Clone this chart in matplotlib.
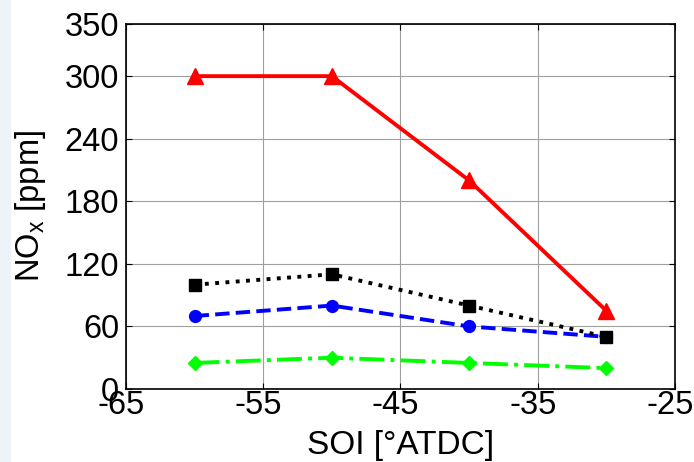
import matplotlib
matplotlib.use('Agg')
import matplotlib.pyplot as plt
import matplotlib.transforms as mtransforms
from matplotlib.patches import Rectangle

soi = [-60, -50, -40, -30]
nox_red = [300, 300, 200, 75]
nox_black = [100, 110, 80, 50]
nox_blue = [70, 80, 60, 50]
nox_green = [25, 30, 25, 20]

x_ticks = [-65, -55, -45, -35, -25]
y_ticks = [0, 60, 120, 180, 240, 300, 350]

plt.rcParams['font.family'] = ['Liberation Sans', 'DejaVu Sans']
plt.rcParams['mathtext.fontset'] = 'custom'
plt.rcParams['mathtext.rm'] = 'Liberation Sans'
plt.rcParams['axes.unicode_minus'] = False

fig = plt.figure(figsize=(6.94, 4.62), dpi=100)
# faint blue strip at the left edge, as in the source slide
fig.patches.append(Rectangle((0, 0), 0.015, 1, transform=fig.transFigure,
                             color='#edf3f9', zorder=0))
ax = fig.add_axes([126 / 694, 73 / 462, 549 / 694, 365 / 462])

# blue first so the black squares sit on top where they meet
ax.plot(soi, nox_blue, '--o', color='blue', lw=2.8, ms=8.5)
ax.plot(soi, nox_green, '-.D', color='#00ff00', lw=2.8, ms=7.5)
ax.plot(soi, nox_black, ':s', color='black', lw=2.8, ms=8.5)
ax.plot(soi, nox_red, '-^', color='red', lw=2.8, ms=11)

ax.set_xlim(-65, -25)
ax.set_ylim(0, 350)
ax.set_xticks(x_ticks)
ax.set_yticks(y_ticks)
ax.grid(True, color='#a0a0a0', lw=0.8)
ax.tick_params(direction='in', top=True, right=True, length=4,
               labelsize=23.5, pad=1)
ax.tick_params(axis='y', pad=5)
for s in ax.spines.values():
    s.set_linewidth(1.2)

# x tick labels sit a little left of their ticks in the source
shift = mtransforms.ScaledTranslation(-5 / 100, 0, fig.dpi_scale_trans)
for lab in ax.get_xticklabels():
    lab.set_transform(lab.get_transform() + shift)

ax.set_xlabel('SOI [°ATDC]', fontsize=24, labelpad=6)
ax.set_ylabel(r'NO$_\mathrm{x}$ [ppm]', fontsize=23.5, labelpad=12)

fig.savefig('out.png', dpi=100)
